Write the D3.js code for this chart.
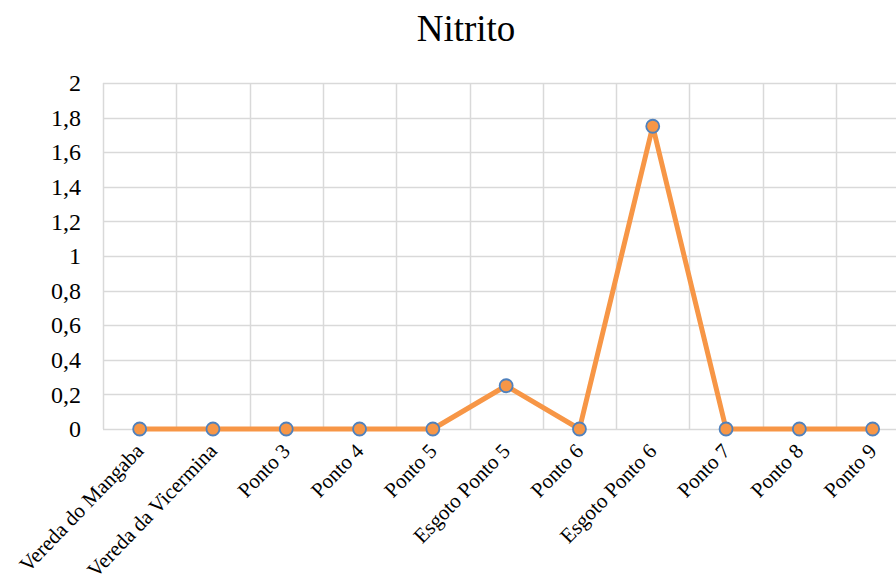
<!DOCTYPE html>
<html>
<head>
<meta charset="utf-8">
<script src="https://cdn.jsdelivr.net/npm/d3@7/dist/d3.min.js"></script>
<style>
  body { margin: 0; background: #fff; }
  svg { font-family: "Liberation Serif", "Times New Roman", serif; }
</style>
</head>
<body>
<div id="chart"></div>
<script>
// categories and values
let categories = ['Vereda do Mangaba', 'Vereda da Vicermina', 'Ponto 3', 'Ponto 4', 'Ponto 5',
    'Esgoto Ponto 5', 'Ponto 6', 'Esgoto Ponto 6', 'Ponto 7', 'Ponto 8', 'Ponto 9'];
let values = [0, 0, 0, 0, 0, 0.25, 0, 1.75, 0, 0, 0];
let yTicks = [0, 0.2, 0.4, 0.6, 0.8, 1, 1.2, 1.4, 1.6, 1.8, 2];

let W = 896, H = 577;
let margin = { top: 83, left: 103, bottom: 148 };
let bandW = 73.3;
let width = bandW * categories.length,
    height = H - margin.top - margin.bottom;

let svg = d3.select('#chart').append('svg')
    .attr('width', W)
    .attr('height', H);

svg.append('text')
    .attr('x', 466)
    .attr('y', 41)
    .attr('text-anchor', 'middle')
    .attr('font-size', 37)
    .attr('fill', '#000')
    .text('Nitrito');

let g = svg.append('g')
    .attr('transform', 'translate(' + margin.left + ',' + margin.top + ')');

let x = d3.scaleBand().domain(categories).range([0, width]);
let y = d3.scaleLinear().domain([0, 2]).range([height, 0]);

// horizontal grid
g.append('g')
    .selectAll('line')
    .data(yTicks)
    .enter().append('line')
    .attr('x1', 0)
    .attr('x2', width)
    .attr('y1', d => Math.round(y(d)) + 0.5)
    .attr('y2', d => Math.round(y(d)) + 0.5)
    .attr('stroke', '#d9d9d9')
    .attr('stroke-width', 1.5);

// vertical grid
g.append('g')
    .selectAll('line')
    .data(categories)
    .enter().append('line')
    .attr('x1', d => Math.round(x(d)) + 0.5)
    .attr('x2', d => Math.round(x(d)) + 0.5)
    .attr('y1', 0)
    .attr('y2', height)
    .attr('stroke', '#d9d9d9')
    .attr('stroke-width', 1.5);

// y axis labels
let yAxis = g.append('g')
    .call(d3.axisLeft(y).tickValues(yTicks).tickSize(0).tickPadding(22)
        .tickFormat(d => String(d).replace('.', ',')));
yAxis.select('.domain').remove();
yAxis.selectAll('text')
    .attr('font-family', '"Liberation Serif", serif')
    .attr('font-size', 24)
    .attr('fill', '#000');

// x axis labels
let xAxis = g.append('g')
    .attr('transform', 'translate(0,' + height + ')')
    .call(d3.axisBottom(x).tickSize(0));
xAxis.select('.domain').remove();
xAxis.selectAll('text')
    .attr('font-family', '"Liberation Serif", serif')
    .attr('font-size', 21)
    .attr('fill', '#000')
    .attr('text-anchor', 'end')
    .attr('dy', 0)
    .attr('transform', 'translate(3,21) rotate(-46)');

// line
let line = d3.line()
    .x((d, i) => x(categories[i]) + x.bandwidth() / 2)
    .y(d => y(d));

g.append('path')
    .datum(values)
    .attr('d', line)
    .attr('fill', 'none')
    .attr('stroke', '#f79646')
    .attr('stroke-width', 5)
    .attr('stroke-linejoin', 'round');

// markers
g.selectAll('circle')
    .data(values)
    .enter().append('circle')
    .attr('cx', (d, i) => x(categories[i]) + x.bandwidth() / 2)
    .attr('cy', d => y(d))
    .attr('r', 6.5)
    .attr('fill', '#f79646')
    .attr('stroke', '#4f81bd')
    .attr('stroke-width', 1.8);
</script>
</body>
</html>
